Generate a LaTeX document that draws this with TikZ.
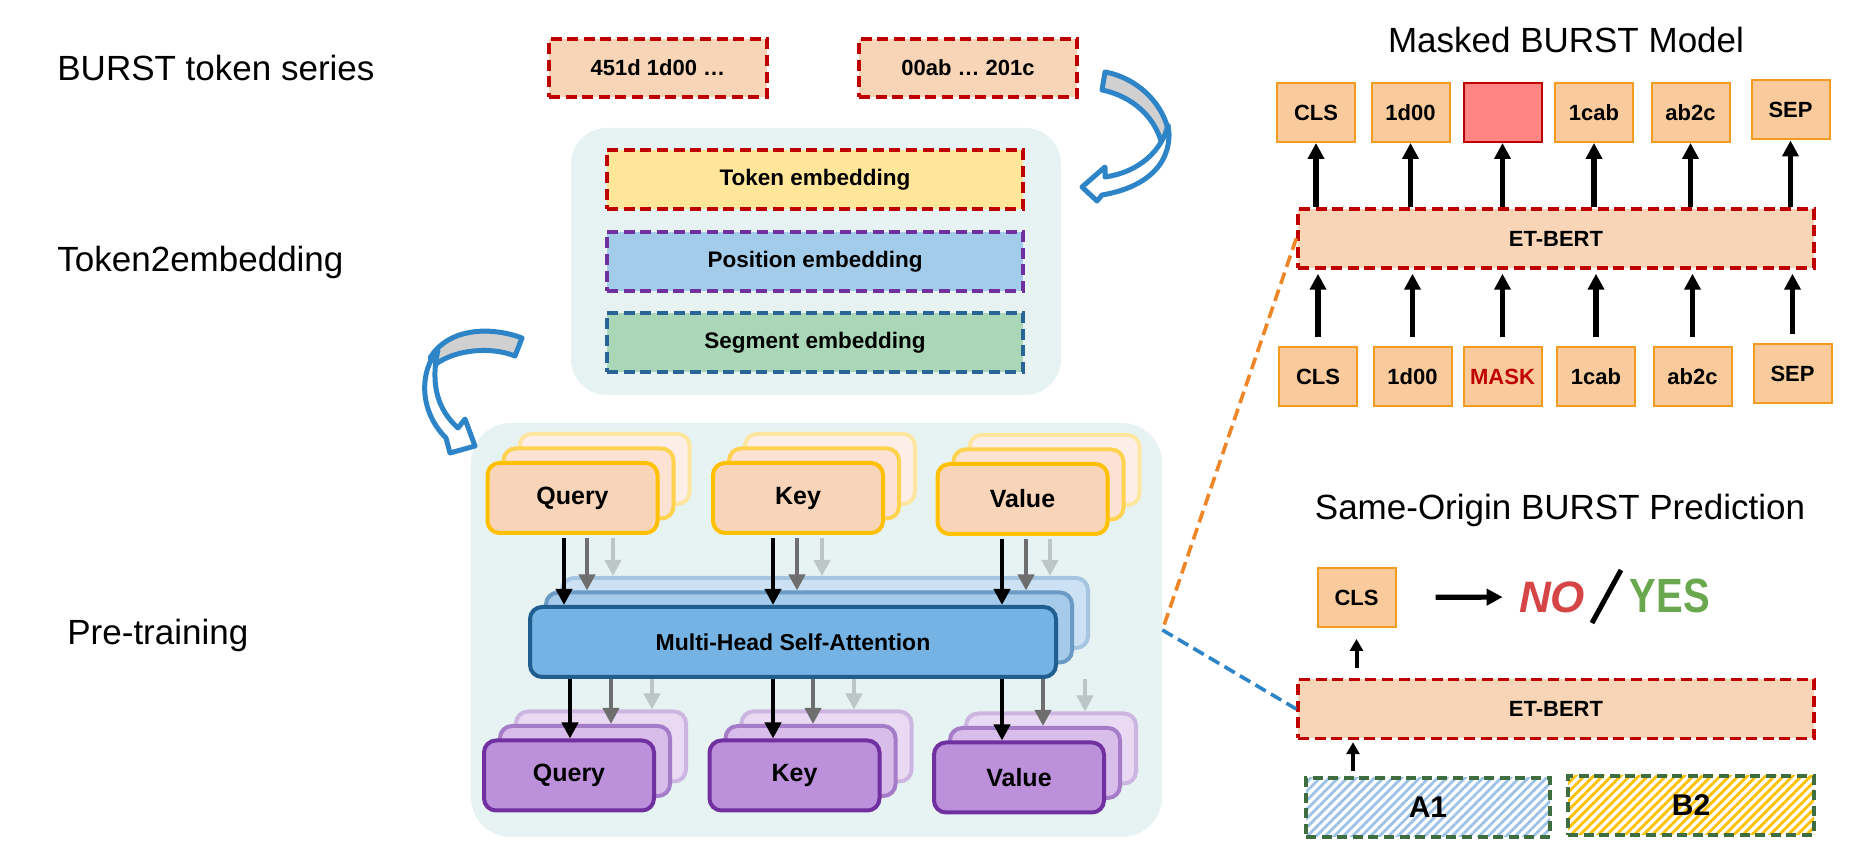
\documentclass[tikz,border=0pt]{standalone}
\usepackage{fontspec}
\setmainfont{Liberation Sans}
\usetikzlibrary{arrows.meta,patterns.meta}
\definecolor{panelbg}{HTML}{E7F3F3}
\definecolor{peach}{HTML}{F9D5B8}
\definecolor{dred}{HTML}{C00000}
\definecolor{tokyel}{HTML}{FFE699}
\definecolor{posblue}{HTML}{A3CCEB}
\definecolor{pospurp}{HTML}{7030A0}
\definecolor{seggreen}{HTML}{A9D7B7}
\definecolor{segblue}{HTML}{2A6496}
\definecolor{qtAf}{HTML}{F8D5B8}\definecolor{qtAd}{HTML}{FFC000}
\definecolor{qtBf}{HTML}{FBE2D2}\definecolor{qtBd}{HTML}{FFD24F}
\definecolor{qtCf}{HTML}{FDEFE8}\definecolor{qtCd}{HTML}{FFE6A0}
\definecolor{mhAf}{HTML}{74B3E3}\definecolor{mhAd}{HTML}{1F5E8E}
\definecolor{mhBf}{HTML}{A5CAEA}\definecolor{mhBd}{HTML}{6B9BC4}
\definecolor{mhCf}{HTML}{CCE1F3}\definecolor{mhCd}{HTML}{A6C5E0}
\definecolor{qbAf}{HTML}{BD90DB}\definecolor{qbAd}{HTML}{7030A0}
\definecolor{qbBf}{HTML}{D8BCEA}\definecolor{qbBd}{HTML}{A57CC8}
\definecolor{qbCf}{HTML}{E9D9F3}\definecolor{qbCd}{HTML}{CDB5E2}
\definecolor{arrgray}{HTML}{6E6E6E}
\definecolor{arrlight}{HTML}{BCC6C6}
\definecolor{tokfill}{HTML}{F9CB9C}
\definecolor{tokor}{HTML}{F29B1F}
\definecolor{maskfill}{HTML}{FF8585}
\definecolor{dorange}{HTML}{EE8526}
\definecolor{dblue}{HTML}{2D84C6}
\definecolor{hgreen}{HTML}{3E6E40}
\definecolor{hblue}{HTML}{9CC3E6}
\definecolor{hyellow}{HTML}{FFC000}
\definecolor{nored}{HTML}{D64545}
\definecolor{yesgreen}{HTML}{6AA84F}
\definecolor{cblue}{HTML}{2D84C6}
\definecolor{cgray}{HTML}{D0D0D0}
\newcommand{\stackthree}[6]{%
  \node[#5, #6C] (#1c) at ({#2+32},{#3-29}) {};
  \node[#5, #6B] (#1b) at ({#2+16},{#3-14.5}) {};
  \node[#5, #6A] (#1a) at (#2,#3) {#4};
}
\begin{document}
\begin{tikzpicture}[x=0.5pt,y=-0.5pt,
  lbl/.style={font=\fontsize{17.5}{21}\selectfont, inner sep=0},
  dashbox/.style={dash pattern=on 5.5pt off 2.8pt, line width=1.75pt, inner sep=0},
  burst/.style={dashbox, draw=dred, fill=peach, minimum width=109pt, minimum height=29pt, font=\bfseries\fontsize{11}{13}\selectfont},
  emb/.style={dashbox, minimum width=208pt, minimum height=29.5pt, font=\bfseries\fontsize{11.25}{13}\selectfont},
  panel/.style={fill=panelbg, inner sep=0},
  qkv/.style={rounded corners=6pt, line width=2pt, minimum width=85pt, minimum height=35pt, inner sep=0, font=\bfseries\fontsize{12.5}{15}\selectfont},
  mhs/.style={rounded corners=6pt, line width=2pt, minimum width=263pt, minimum height=35pt, inner sep=0, font=\bfseries\fontsize{11.5}{14}\selectfont},
  qtA/.style={fill=qtAf, draw=qtAd}, qtB/.style={fill=qtBf, draw=qtBd}, qtC/.style={fill=qtCf, draw=qtCd},
  mhA/.style={fill=mhAf, draw=mhAd}, mhB/.style={fill=mhBf, draw=mhBd}, mhC/.style={fill=mhCf, draw=mhCd},
  qbA/.style={fill=qbAf, draw=qbAd}, qbB/.style={fill=qbBf, draw=qbBd}, qbC/.style={fill=qbCf, draw=qbCd},
  blk/.style={-{Triangle[width=8pt,length=8pt]}, line width=2.4pt, draw=black},
  gry/.style={-{Triangle[width=8pt,length=8pt]}, line width=2.4pt, draw=arrgray},
  lgr/.style={-{Triangle[width=8pt,length=8pt]}, line width=2.4pt, draw=arrlight},
  tk/.style={draw=tokor, fill=tokfill, line width=1pt, minimum width=39pt, minimum height=29.5pt, inner sep=0, font=\bfseries\fontsize{11}{13}\selectfont},
  etbert/.style={dashbox, draw=dred, fill=peach, minimum width=258pt, minimum height=29.5pt, font=\bfseries\fontsize{11}{13}\selectfont},
  rarr/.style={-{Triangle[width=8pt,length=8pt]}, line width=2.6pt},
  sarr/.style={-{Triangle[width=6.5pt,length=6pt]}, line width=2pt},
  hatchbox/.style={dash pattern=on 5pt off 2.8pt, line width=1.75pt, draw=hgreen, minimum height=29.5pt, inner sep=0, font=\bfseries\fontsize{15}{18}\selectfont, preaction={fill=white}},
  curv/.style={draw=cblue, line width=2.5pt, line join=round}
]
\useasboundingbox (0,0) rectangle (1854,849);

% left labels
\node[lbl, anchor=west] (l1) at (57,68) {BURST token series};
\node[lbl, anchor=west] (l2) at (57,262) {Token2embedding};
\node[lbl, anchor=west] (l3) at (67,635) {Pre-training};

% top token series
\node[burst] (bs1) at (658,68) {451d 1d00 …};
\node[burst] (bs2) at (968,68) {00ab … 201c};

% embedding panel
\node[panel, rounded corners=18pt, minimum width=245pt, minimum height=133.5pt] (embp) at (816,261.5) {};
\node[emb, draw=dred, fill=tokyel] (tok) at (815,179.5) {Token embedding};
\node[emb, draw=pospurp, fill=posblue] (pos) at (815,261.5) {Position embedding};
\node[emb, draw=segblue, fill=seggreen] (seg) at (815,342.5) {Segment embedding};

% attention panel
\node[panel, rounded corners=20pt, minimum width=345.5pt, minimum height=207pt] (attp) at (816.5,630) {};

\stackthree{q1}{572.5}{498}{Query}{qkv}{qt}
\stackthree{k1}{798}{498}{Key}{qkv}{qt}
\stackthree{v1}{1022.5}{499}{Value}{qkv}{qt}
\stackthree{m}{793}{642}{Multi-Head Self-Attention}{mhs}{mh}
\stackthree{q2}{569}{775.5}{Query}{qkv}{qb}
\stackthree{k2}{794.5}{775.5}{Key}{qkv}{qb}
\stackthree{v2}{1019}{777.5}{Value}{qkv}{qb}

% arrows top -> attention
\foreach \src/\dx/\tgt/\sty in {q1a/-4.25/ma/blk, q1a/7.25/mb/gry, q1a/20.25/mc/lgr,
  k1a/-12.5/ma/blk, k1a/-0.5/mb/gry, k1a/12/mc/lgr,
  v1a/-10.25/ma/blk, v1a/1.75/mb/gry, v1a/13.75/mc/lgr}
  \draw[\sty, shorten <=1.5pt] ([xshift=\dx pt]\src.south) -- ([xshift=\dx pt]\src.south |- \tgt.north);
% arrows attention -> bottom
\foreach \tgt/\dx/\sty in {q2a/0.5/blk, q2b/13/gry, q2c/25.5/lgr,
  k2a/-10.75/blk, k2b/1.25/gry, k2c/13.75/lgr,
  v2a/-8.5/blk, v2b/4/gry, v2c/17/lgr}
  \draw[\sty] ([xshift=\dx pt]\tgt.north |- ma.south) -- ([xshift=\dx pt]\tgt.north);

% curved arrow right
\draw[curv, fill=cgray] (1105,72) .. controls (1138,78) and (1165,105) .. (1169,135)
  -- (1163,150) .. controls (1158,118) and (1132,96) .. (1102,90) -- cycle;
\draw[curv, fill=white] (1168,125) .. controls (1174,160) and (1150,187) .. (1102,195)
  -- (1097,201) -- (1082,187) -- (1105,167) -- (1105,177)
  .. controls (1140,172) and (1162,150) .. (1168,125) -- cycle;
% curved arrow left
\draw[curv, fill=cgray] (522,338) .. controls (490,326) and (448,328) .. (430,358)
  -- (436,364) .. controls (455,350) and (490,346) .. (515,356) -- cycle;
\draw[curv, fill=white] (438,350) .. controls (420,370) and (418,410) .. (446,438)
  -- (450,453) -- (475,446) -- (465,419) -- (458,428)
  .. controls (438,410) and (430,385) .. (438,350) -- cycle;

% Masked BURST model
\node[lbl] (t1) at (1566,40) {Masked BURST Model};
\node[tk] (tA1) at (1316,112.5) {CLS};
\node[tk] (tA2) at (1410.5,112.5) {1d00};
\node[tk, fill=maskfill, draw=dred] (tA3) at (1502.5,112.5) {};
\node[tk] (tA4) at (1594,112.5) {1cab};
\node[tk] (tA5) at (1690.5,112.5) {ab2c};
\node[tk] (tA6) at (1790.5,110) {SEP};
\node[etbert] (etb) at (1556,238.5) {ET-BERT};
\node[tk] (tB1) at (1318,377) {CLS};
\node[tk] (tB2) at (1412.5,377) {1d00};
\node[tk, text=dred] (tB3) at (1502.5,377) {MASK};
\node[tk] (tB4) at (1596,377) {1cab};
\node[tk] (tB5) at (1692.5,377) {ab2c};
\node[tk] (tB6) at (1792.5,374) {SEP};
\foreach \i in {1,...,6}{
  \draw[rarr] (tA\i.south |- etb.north) -- (tA\i.south);
  \draw[rarr, shorten <=4.5pt, shorten >=2pt] (tB\i.north) -- (tB\i.north |- etb.south);
}

% Same-origin prediction
\node[lbl] (t2) at (1560,510) {Same-Origin BURST Prediction};
\node[tk] (cls2) at (1356.5,597.5) {CLS};
\node[etbert] (etb2) at (1556,709) {ET-BERT};
\node[hatchbox, minimum width=122pt, pattern={Lines[angle=45,distance=3.2pt,line width=1.4pt]}, pattern color=hblue] (a1) at (1428,807.5) {A1};
\node[hatchbox, minimum width=123pt, pattern={Lines[angle=45,distance=3.2pt,line width=1.4pt]}, pattern color=hyellow] (b2) at (1691,805.5) {B2};
\node[font=\bfseries\itshape\fontsize{22}{24}\selectfont, text=nored, inner sep=0] (no) at (1552,597) {NO};
\node[font=\bfseries\fontsize{20}{24}\selectfont, text=yesgreen, inner sep=0] (yes) at (1670,596) {\scalebox{1}[1.2]{YES}};
\draw[line width=2.5pt] (1592,623) -- (1621,570);
\draw[sarr, shorten <=5pt, shorten >=5.5pt] (etb2.north -| cls2.south) -- (cls2.south);
\draw[sarr, shorten <=3pt, shorten >=1pt] ([xshift=-37.5pt]a1.north) -- ([xshift=-37.5pt]a1.north |- etb2.south);
\draw[rarr, shorten <=19.5pt, shorten >=8pt] (cls2.east) -- (no.west);

% dashed connectors
\draw[dorange, dash pattern=on 6pt off 3pt, line width=1.8pt] (etb.west) -- (attp.east);
\draw[dblue, dash pattern=on 6pt off 3pt, line width=1.8pt] (attp.east) -- (etb2.west);
\end{tikzpicture}
\end{document}
